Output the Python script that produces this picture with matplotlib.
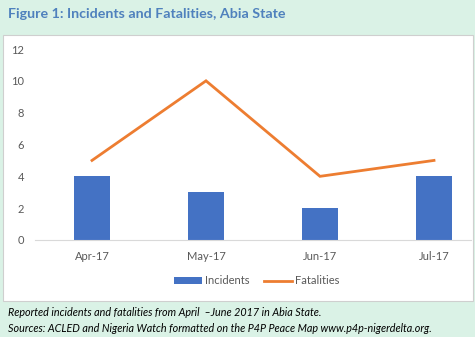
import numpy as np
import matplotlib.pyplot as plt
from matplotlib.patches import Rectangle

months = ["Apr-17", "May-17", "Jun-17", "Jul-17"]
incidents = [4, 3, 2, 4]
fatalities = [5, 10, 4, 5]
y_ticks = [0, 2, 4, 6, 8, 10, 12]

TITLE = "Figure 1: Incidents and Fatalities, Abia State"
NOTE_1 = "Reported incidents and fatalities from April  \u2013June 2017 in Abia State."
NOTE_2 = "Sources: ACLED and Nigeria Watch formatted on the P4P Peace Map www.p4p-nigerdelta.org."

W, H = 475, 344
GREEN = "#daf2e6"
GREY = "#595959"

plt.rcParams['font.family'] = ['Lato', 'DejaVu Sans']


def main():
    fig = plt.figure(figsize=(W / 100, H / 100), dpi=100, facecolor="white")

    # green panel and white chart box
    fig.patches.append(Rectangle((0, 7 / H), 1, 1 - 7 / H, transform=fig.transFigure,
                                 facecolor=GREEN, edgecolor="none", zorder=-3))
    fig.patches.append(Rectangle((3 / W, (H - 301) / H), 470 / W, 266 / H,
                                 transform=fig.transFigure, facecolor="white",
                                 edgecolor="#cfcfcf", linewidth=0.8, zorder=-2))

    fig.text(8 / W, 1 - 14 / H, TITLE, fontsize=10.3, fontweight="bold",
             color="#4f81bd", va="center", ha="left")
    fig.text(8 / W, 1 - 313 / H, NOTE_1, fontsize=7.75, style="italic",
             color="black", va="center", ha="left")
    fig.text(8 / W, 1 - 329 / H, NOTE_2, fontsize=7.75, style="italic",
             color="black", va="center", ha="left")

    ax = fig.add_axes([35 / W, (H - 240) / H, 436 / W, 191 / H])
    ax.set_facecolor("none")
    x = np.arange(len(months))
    bars = ax.bar(x, incidents, width=0.31, color="#4472c4", label="Incidents", zorder=2)
    line, = ax.plot(x, fatalities, color="#ed7d31", linewidth=2.0, label="Fatalities",
                    solid_joinstyle="miter", zorder=3)

    ax.set_xlim(-0.5, -0.5 + 436 / 114)
    ax.set_ylim(0, 12)
    ax.set_yticks(y_ticks)
    ax.set_xticks(x)
    ax.set_xticklabels(months)
    ax.tick_params(length=0, labelsize=8, labelcolor=GREY)
    ax.tick_params(axis="y", pad=8)
    ax.tick_params(axis="x", pad=8)
    for s in ["top", "right", "left"]:
        ax.spines[s].set_visible(False)
    ax.spines["bottom"].set_color("#d9d9d9")
    ax.spines["bottom"].set_linewidth(0.8)

    fig.legend([bars, line], ["Incidents", "Fatalities"], loc="center",
               bbox_to_anchor=(257 / W, 1 - 281 / H), ncol=2,
               frameon=False, fontsize=8, labelcolor=GREY, handlelength=2.5,
               handletextpad=0.3, columnspacing=1.3, handleheight=0.6)

    fig.savefig("out.png", dpi=100)
    plt.close(fig)


if __name__ == "__main__":
    main()
